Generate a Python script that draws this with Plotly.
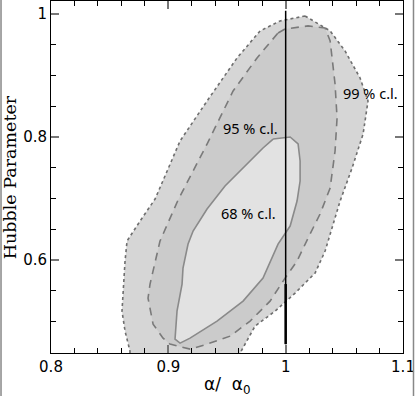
import plotly.graph_objects as go

# Contour data (alpha/alpha0, Hubble parameter)
c99_x = [1.0165, 1.0379, 1.0506, 1.0634, 1.0702, 1.0660, 1.0566, 1.0464, 1.0336, 1.0251,
         1.0080, 0.9910, 0.9739, 0.9611, 0.9526, 0.8673, 0.8673, 0.8631, 0.8605, 0.8631,
         0.8648, 0.8759, 0.8887, 0.9100, 0.9330, 0.9586, 0.9782, 0.9952, 1.0165]
c99_y = [0.9967, 0.9724, 0.9398, 0.8959, 0.8585, 0.8049, 0.7496, 0.6959, 0.6146, 0.5789,
         0.5463, 0.5171, 0.4927, 0.4488, 0.4195, 0.4195, 0.4520, 0.4846, 0.5171, 0.5984,
         0.6309, 0.6634, 0.6992, 0.7935, 0.8585, 0.9285, 0.9724, 0.9886, 0.9967]

c95_x = [0.9935, 0.9995, 1.0191, 1.0336, 1.0379, 1.0421, 1.0438, 1.0421, 1.0379, 1.0293,
         1.0191, 1.0097, 0.9995, 0.9867, 0.9697, 0.9526, 0.9330, 0.9185, 0.9014, 0.8955,
         0.8870, 0.8827, 0.8844, 0.8929, 0.9083, 0.9330, 0.9552, 0.9756, 0.9935]
c95_y = [0.9691, 0.9756, 0.9805, 0.9772, 0.9561, 0.8862, 0.8309, 0.7772, 0.7171, 0.6748,
         0.6358, 0.5984, 0.5707, 0.5333, 0.5008, 0.4764, 0.4634, 0.4553, 0.4634, 0.4732,
         0.4959, 0.5382, 0.5610, 0.6309, 0.6976, 0.7886, 0.8748, 0.9285, 0.9691]

c68_x = [0.9893, 1.0038, 1.0106, 1.0123, 1.0123, 1.0097, 1.0038, 0.9935, 0.9807, 0.9637,
         0.9415, 0.9185, 0.9100, 0.9057, 0.9074, 0.9117, 0.9125, 0.9168, 0.9211, 0.9330,
         0.9483, 0.9654, 0.9807, 0.9893]
c68_y = [0.7967, 0.8000, 0.7886, 0.7610, 0.7285, 0.6959, 0.6553, 0.6260, 0.5707, 0.5333,
         0.5008, 0.4732, 0.4650, 0.4715, 0.5171, 0.5610, 0.5870, 0.6260, 0.6472, 0.6829,
         0.7203, 0.7528, 0.7821, 0.7967]

ref_x = [1.0, 1.0]
ref_y = [0.4634, 1.005]
ref_thick_y = [0.4634, 0.561]

labels = ["99 % c.l.", "95 % c.l.", "68 % c.l."]
label_x = [1.0719, 0.9697, 0.9680]
label_y = [0.8715, 0.8146, 0.6764]

fig = go.Figure()
fig.add_trace(go.Scatter(x=c99_x, y=c99_y, mode="lines", fill="toself",
                         fillcolor="#d6d6d6",
                         line=dict(color="#6e6e6e", width=1.6, dash="3px,3px"),
                         hoverinfo="skip", showlegend=False))
fig.add_trace(go.Scatter(x=c95_x, y=c95_y, mode="lines", fill="toself",
                         fillcolor="#cbcbcb",
                         line=dict(color="#7a7a7a", width=1.6, dash="8px,6px"),
                         hoverinfo="skip", showlegend=False))
fig.add_trace(go.Scatter(x=c68_x, y=c68_y, mode="lines", fill="toself",
                         fillcolor="#e2e2e2",
                         line=dict(color="#8a8a8a", width=1.6),
                         hoverinfo="skip", showlegend=False))
fig.add_trace(go.Scatter(x=ref_x, y=ref_y, mode="lines",
                         line=dict(color="black", width=1.5),
                         hoverinfo="skip", showlegend=False))
fig.add_trace(go.Scatter(x=ref_x, y=ref_thick_y, mode="lines",
                         line=dict(color="black", width=2.5),
                         hoverinfo="skip", showlegend=False))

for t, lx, ly in zip(labels, label_x, label_y):
    fig.add_annotation(x=lx, y=ly, text=t, showarrow=False,
                       font=dict(family="Noto Sans", size=14.5, color="black"))

axis_common = dict(showline=True, linecolor="black", linewidth=1, mirror="ticks",
                   ticks="inside", ticklen=8, tickcolor="#777777", tickwidth=2,
                   showgrid=False, zeroline=False, automargin=False,
                   tickfont=dict(family="DejaVu Sans", size=15, color="black"))

fig.update_xaxes(range=[0.8, 1.1], tickmode="linear", tick0=0.8, dtick=0.1,
                 minor=dict(dtick=0.02, tick0=0.8, ticklen=5, tickcolor="black", tickwidth=1,
                            ticks="inside", showgrid=False),
                 **axis_common)
fig.update_yaxes(range=[0.449, 1.021], tickmode="linear", tick0=0.6, dtick=0.2,
                 minor=dict(dtick=0.05, tick0=0.6, ticklen=5, tickcolor="black", tickwidth=1,
                            ticks="inside", showgrid=False),
                 **axis_common)

# axis titles placed as paper annotations
fig.add_annotation(xref="paper", yref="paper", x=0.5, xanchor="center",
                   y=-0.092, yanchor="middle",
                   text="α/  α<sub>0</sub>", showarrow=False,
                   font=dict(family="DejaVu Sans", size=17, color="black"))
fig.add_annotation(xref="paper", yref="paper", x=-0.116, xanchor="center",
                   y=0.5, yanchor="middle", textangle=-90,
                   text="Hubble Parameter", showarrow=False,
                   font=dict(family="DejaVu Serif", size=17.5, color="black"))

# thin grey figure border lines (left and right)
fig.add_shape(type="line", xref="paper", yref="paper", x0=-0.142, x1=-0.142, y0=-0.15, y1=1.01,
              line=dict(color="#888888", width=1.5))
fig.add_shape(type="line", xref="paper", yref="paper", x0=1.0298, x1=1.0298, y0=-0.15, y1=1.01,
              line=dict(color="#888888", width=1.5))

fig.update_layout(width=415, height=396, margin=dict(l=51, r=12, t=1, b=43),
                  plot_bgcolor="white", paper_bgcolor="white", showlegend=False)

fig.write_html("out.html", config={"displayModeBar": False},
               post_script="document.body.style.margin='0';document.body.style.overflow='hidden';")
